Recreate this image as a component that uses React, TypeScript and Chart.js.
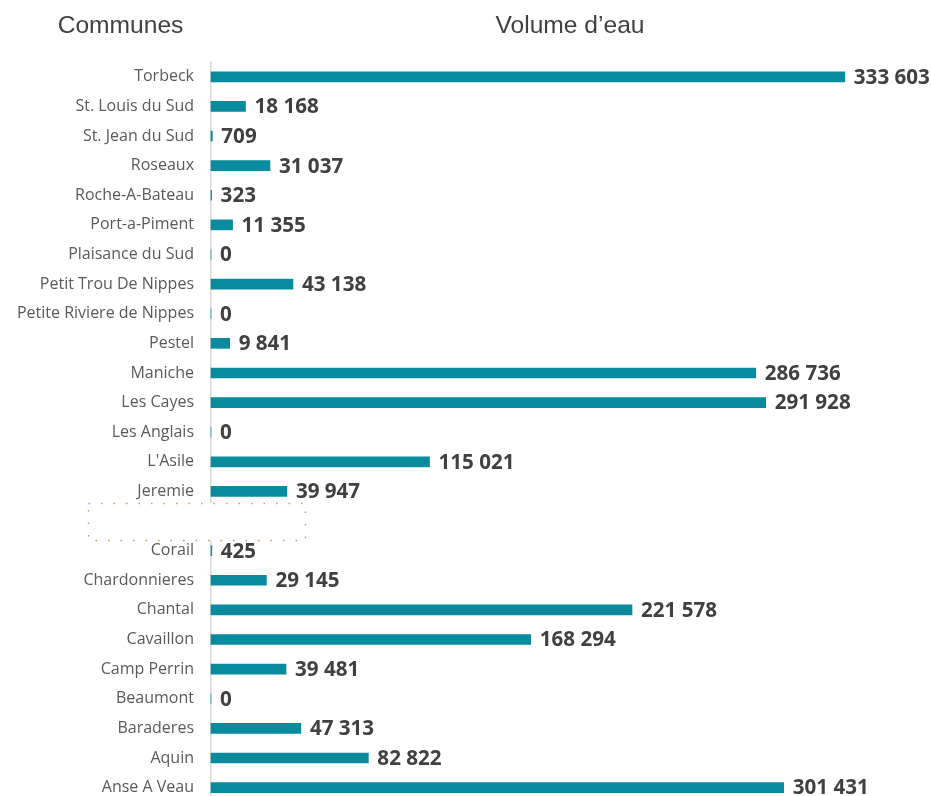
import React, { useEffect, useRef } from "react";
import { Chart, registerables } from "chart.js";

Chart.register(...registerables);

const communes: string[] = [
  "Torbeck",
  "St. Louis du Sud",
  "St. Jean du Sud",
  "Roseaux",
  "Roche-A-Bateau",
  "Port-a-Piment",
  "Plaisance du Sud",
  "Petit Trou De Nippes",
  "Petite Riviere de Nippes",
  "Pestel",
  "Maniche",
  "Les Cayes",
  "Les Anglais",
  "L'Asile",
  "Jeremie",
  "",
  "Corail",
  "Chardonnieres",
  "Chantal",
  "Cavaillon",
  "Camp Perrin",
  "Beaumont",
  "Baraderes",
  "Aquin",
  "Anse A Veau",
];

const volumes: (number | null)[] = [
  333603, 18168, 709, 31037, 323, 11355, 0, 43138, 0, 9841, 286736, 291928, 0,
  115021, 39947, null, 425, 29145, 221578, 168294, 39481, 0, 47313, 82822, 301431,
];

const headerLeft = "Communes";
const headerRight = "Volume d\u2019eau";
const hiddenIndex = 15;

const fmt = (v: number) => String(v).replace(/\B(?=(\d{3})+(?!\d))/g, " ");

export default function App() {
  const ref = useRef<HTMLCanvasElement | null>(null);

  useEffect(() => {
    if (!ref.current) return;

    const headers = {
      id: "headers",
      afterDraw(chart: any) {
        const ctx = chart.ctx;
        ctx.save();
        ctx.fillStyle = "#404040";
        ctx.font = "24.6px 'Liberation Sans', Arial, sans-serif";
        ctx.textAlign = "center";
        ctx.textBaseline = "alphabetic";
        ctx.fillText(headerLeft, 120.5, 33);
        ctx.fillText(headerRight, 570, 33);
        ctx.restore();
      },
    };

    const valueLabels = {
      id: "valueLabels",
      afterDatasetsDraw(chart: any) {
        const ctx = chart.ctx;
        const meta = chart.getDatasetMeta(0);
        ctx.save();
        ctx.fillStyle = "#404040";
        ctx.font = "bold 20.6px 'Open Sans', sans-serif";
        ctx.textAlign = "left";
        ctx.textBaseline = "middle";
        meta.data.forEach((bar: any, i: number) => {
          const v = volumes[i];
          if (v === null || v === undefined) return;
          ctx.fillText(fmt(v), bar.x + 9, bar.y + 1);
        });
        ctx.restore();
      },
    };

    const maskBox = {
      id: "maskBox",
      afterDraw(chart: any) {
        const ctx = chart.ctx;
        const y = chart.scales.y.getPixelForValue(hiddenIndex);
        const top = Math.round(y - 18);
        const h = 37;
        ctx.save();
        ctx.fillStyle = "#ffffff";
        ctx.fillRect(88, top, 218, h);
        ctx.strokeStyle = "#c8965e";
        ctx.lineWidth = 1.4;
        ctx.setLineDash([1.5, 11]);
        ctx.strokeRect(88.5, top + 0.5, 217, h);
        ctx.restore();
      },
    };

    const chart = new Chart(ref.current, {
      type: "bar",
      data: {
        labels: communes,
        datasets: [
          {
            data: volumes as any,
            backgroundColor: "#088b9c",
            borderWidth: 0,
            barThickness: 10,
            clip: false as any,
          },
        ],
      },
      options: {
        indexAxis: "y",
        animation: false,
        responsive: false,
        maintainAspectRatio: false,
        layout: { padding: { top: 62, bottom: 0, left: 0, right: 17 } },
        plugins: {
          legend: { display: false },
          tooltip: { enabled: false },
          title: { display: false },
        },
        scales: {
          x: {
            display: false,
            min: 0,
            max: 370000,
          },
          y: {
            grid: { display: false, drawTicks: false },
            border: { display: true, color: "#d9d9d9", width: 1.5 },
            ticks: {
              padding: 17,
              color: "#595959",
              font: { family: "'Open Sans', sans-serif", size: 16 },
              autoSkip: false,
            },
            afterFit(scale: any) {
              scale.width = 211;
            },
          },
        },
      },
      plugins: [headers, valueLabels, maskBox],
    });

    return () => chart.destroy();
  }, []);

  return (
    <div
      style={{
        position: "fixed",
        left: 0,
        top: 0,
        width: 931,
        height: 796,
        overflow: "hidden",
        background: "#ffffff",
      }}
    >
      <canvas ref={ref} width={931} height={829} style={{ display: "block" }} />
    </div>
  );
}
